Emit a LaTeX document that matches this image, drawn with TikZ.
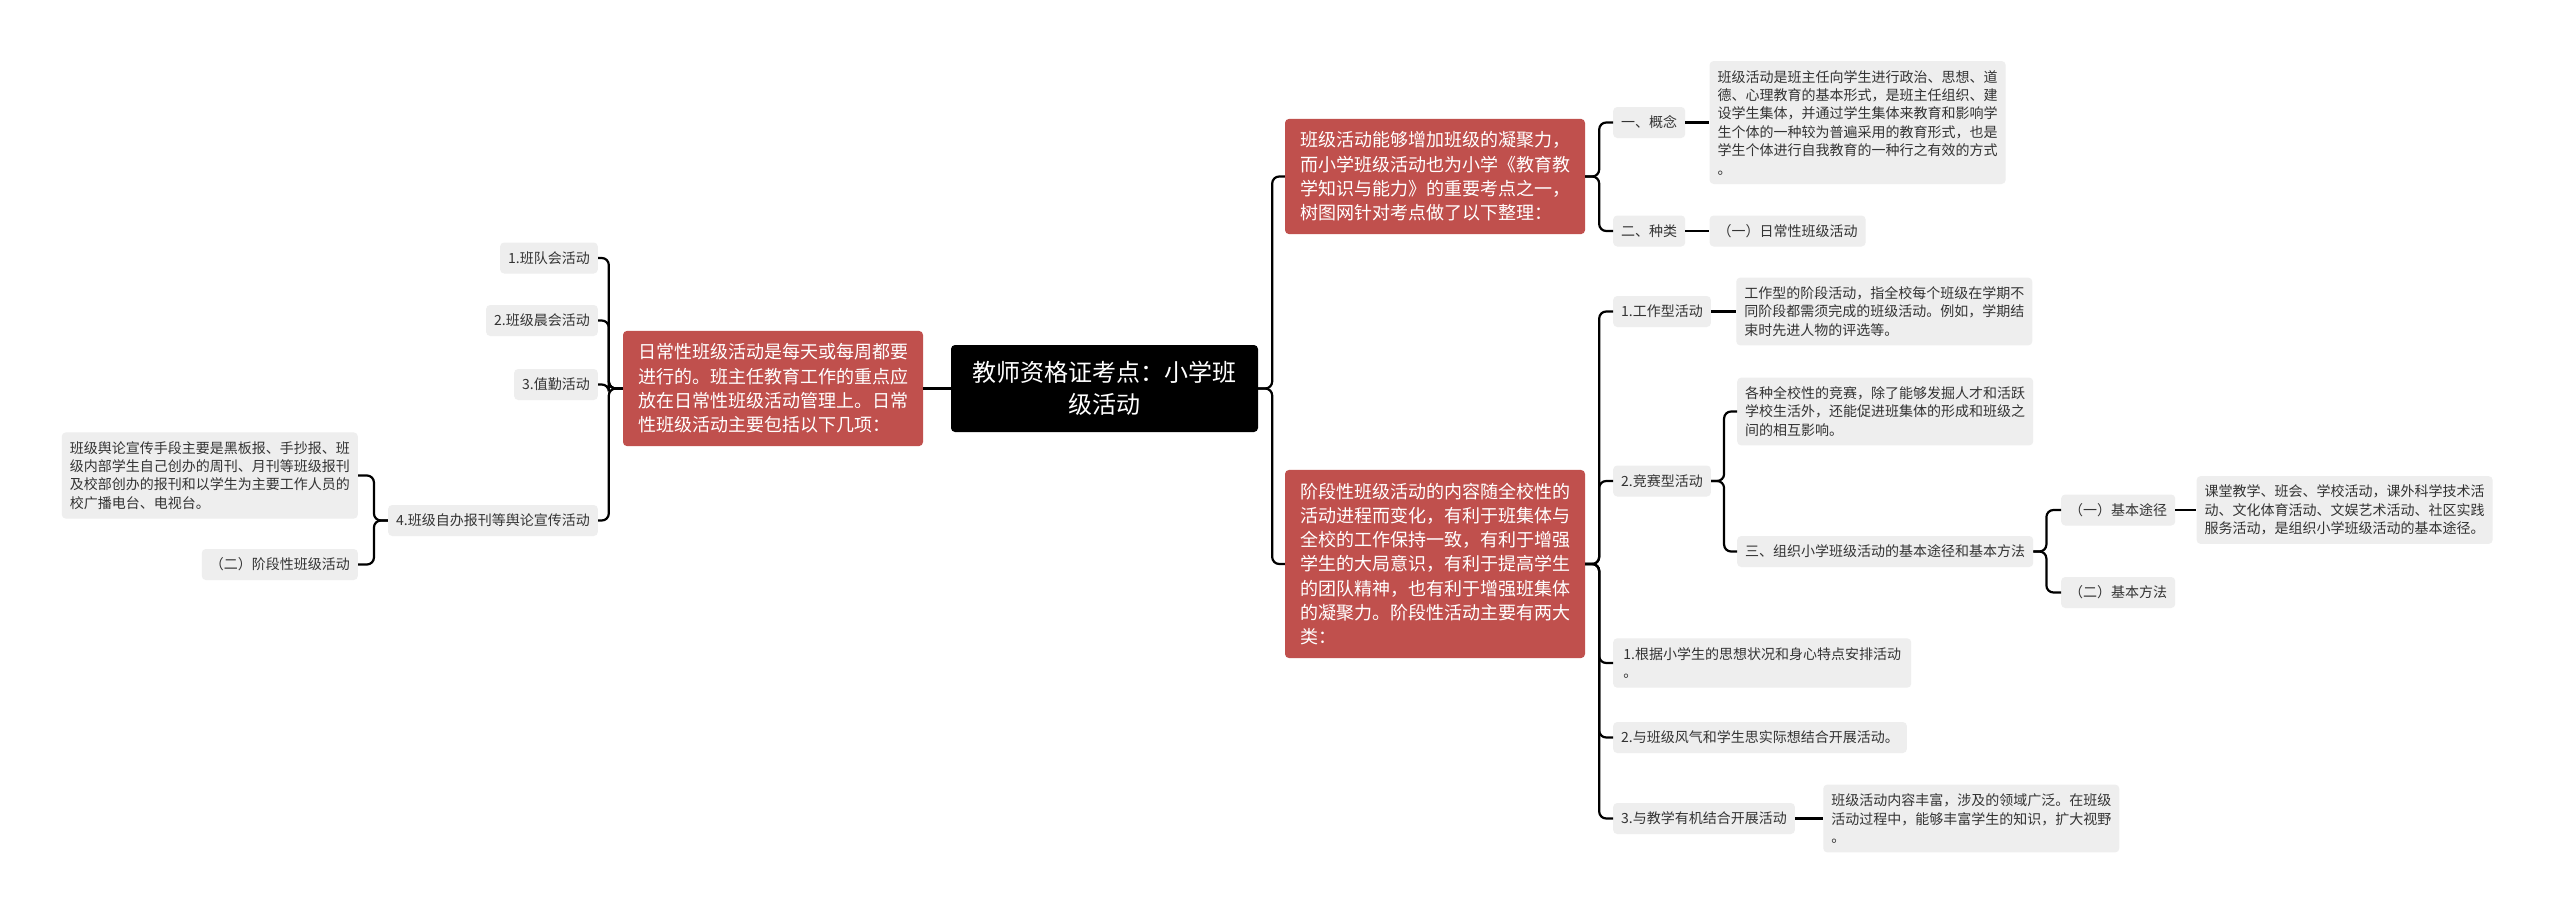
\documentclass[tikz,border=0pt]{standalone}
\usepackage{fontspec}
\setmainfont{Noto Sans CJK SC}
\usepackage{tikz}
\usetikzlibrary{positioning}
\definecolor{branchred}{HTML}{C0504D}
\definecolor{itemgray}{HTML}{EEEEEE}
\definecolor{itemtext}{HTML}{333333}

\begin{document}
\begin{tikzpicture}[
    x=1pt, y=-1pt,
    node distance=25pt,
    topic/.style={fill=black, text=white, rounded corners=4pt, align=center, inner xsep=21pt, inner ysep=0pt, minimum height=87pt, font=\fontsize{24}{32.4}\selectfont},
    branch/.style={fill=branchred, text=white, rounded corners=4pt, align=left, inner xsep=15pt, inner ysep=0pt, font=\fontsize{18}{24.3}\selectfont},
    item/.style={fill=itemgray, text=itemtext, rounded corners=4pt, align=left, inner xsep=8pt, inner ysep=0pt, font=\fontsize{14}{18.4}\selectfont},
    rl/.style={minimum height={#1*24.3pt+18pt}},
    gl/.style={minimum height={#1*18.4pt+12.6pt}},
    link/.style={line width=2.2pt, rounded corners=7pt},
]
\fill[white] (0,0) rectangle (2560,913);
\useasboundingbox (0,0) rectangle (2560,913);

% Central topic
\node[topic, minimum width=307pt] (root) at (1104.5,388.5) {教师资格证考点：小学班\\级活动};

% Main branches
\node[branch, rl=4] (daily) at (773,388.5) {日常性班级活动是每天或每周都要\\进行的。班主任教育工作的重点应\\放在日常性班级活动管理上。日常\\性班级活动主要包括以下几项：};
\node[branch, rl=4] (intro) at (1435,176.5) {班级活动能够增加班级的凝聚力，\\而小学班级活动也为小学《教育教\\学知识与能力》的重要考点之一，\\树图网针对考点做了以下整理：};
\node[branch, rl=7] (stage) at (1435,564) {阶段性班级活动的内容随全校性的\\活动进程而变化，有利于班集体与\\全校的工作保持一致，有利于增强\\学生的大局意识，有利于提高学生\\的团队精神，也有利于增强班集体\\的凝聚力。阶段性活动主要有两大\\类：};

% Concept and kinds
\node[item, gl=1, anchor=west] (concept) at (1613,122.5) {一、概念};
\node[item, gl=6, right=24pt of concept] (conceptd) {班级活动是班主任向学生进行政治、思想、道\\德、心理教育的基本形式，是班主任组织、建\\设学生集体，并通过学生集体来教育和影响学\\生个体的一种较为普遍采用的教育形式，也是\\学生个体进行自我教育的一种行之有效的方式\\。};
\node[item, gl=1, anchor=west] (kinds) at (1613,231) {二、种类};
\node[item, gl=1, right=24pt of kinds] (kindsd) {（一）日常性班级活动};

% Stage activities
\node[item, gl=1, anchor=west] (work) at (1613,311.5) {1.工作型活动};
\node[item, gl=3, right=25pt of work] (workd) {工作型的阶段活动，指全校每个班级在学期不\\同阶段都需须完成的班级活动。例如，学期结\\束时先进人物的评选等。};
\node[item, gl=1, anchor=west] (contest) at (1613,481) {2.竞赛型活动};
\node[item, gl=3, anchor=west] (contestd) at (1737,411.5) {各种全校性的竞赛，除了能够发掘人才和活跃\\学校生活外，还能促进班集体的形成和班级之\\间的相互影响。};
\node[item, gl=1, anchor=west] (organize) at (1737,551.5) {三、组织小学班级活动的基本途径和基本方法};
\node[item, gl=1, anchor=west] (route) at (2061,510) {（一）基本途径};
\node[item, gl=3, right=21pt of route] (routed) {课堂教学、班会、学校活动，课外科学技术活\\动、文化体育活动、文娱艺术活动、社区实践\\服务活动，是组织小学班级活动的基本途径。};
\node[item, gl=1, anchor=west] (method) at (2061,592.5) {（二）基本方法};
\node[item, gl=2, minimum width=298pt, anchor=west] (plan1) at (1613,663) {1.根据小学生的思想状况和身心特点安排活动\\。};
\node[item, gl=1, anchor=west] (plan2) at (1613,737.5) {2.与班级风气和学生思实际想结合开展活动。};
\node[item, gl=1, anchor=west] (plan3) at (1613,818.5) {3.与教学有机结合开展活动};
\node[item, gl=3, right=28pt of plan3] (plan3d) {班级活动内容丰富，涉及的领域广泛。在班级\\活动过程中，能够丰富学生的知识，扩大视野\\。};

% Daily activities
\node[item, gl=1, anchor=east] (meet) at (598,258) {1.班队会活动};
\node[item, gl=1, anchor=east] (morning) at (598,320.5) {2.班级晨会活动};
\node[item, gl=1, anchor=east] (duty) at (598,384.5) {3.值勤活动};
\node[item, gl=1, anchor=east] (press) at (598,520.5) {4.班级自办报刊等舆论宣传活动};
\node[item, gl=4, anchor=east] (pressd) at (358,475.5) {班级舆论宣传手段主要是黑板报、手抄报、班\\级内部学生自己创办的周刊、月刊等班级报刊\\及校部创办的报刊和以学生为主要工作人员的\\校广播电台、电视台。};
\node[item, gl=1, anchor=east] (stagek) at (358,564.5) {（二）阶段性班级活动};

% Connectors, right side
\draw[link] (root.east) -- ++(14,0) |- (intro.west);
\draw[link] (root.east) -- ++(14,0) |- (stage.west);
\draw[link] (intro.east) -- ++(14,0) |- (concept.west);
\draw[link] (intro.east) -- ++(14,0) |- (kinds.west);
\draw[link] (concept) -- (conceptd);
\draw[link] (kinds) -- (kindsd);
\draw[link] (stage.east) -- ++(14,0) |- (work.west);
\draw[link] (stage.east) -- ++(14,0) |- (contest.west);
\draw[link] (stage.east) -- ++(14,0) |- (plan1.west);
\draw[link] (stage.east) -- ++(14,0) |- (plan2.west);
\draw[link] (stage.east) -- ++(14,0) |- (plan3.west);
\draw[link] (work) -- (workd);
\draw[link] (contest.east) -- ++(13,0) |- (contestd.west);
\draw[link] (contest.east) -- ++(13,0) |- (organize.west);
\draw[link] (organize.east) -- ++(13,0) |- (route.west);
\draw[link] (organize.east) -- ++(13,0) |- (method.west);
\draw[link] (route) -- (routed);
\draw[link] (plan3) -- (plan3d);

% Connectors, left side
\draw[link] (root.west) -- (daily.east);
\draw[link] (daily.west) -- ++(-14,0) |- (meet.east);
\draw[link] (daily.west) -- ++(-14,0) |- (morning.east);
\draw[link] (daily.west) -- ++(-14,0) |- (duty.east);
\draw[link] (daily.west) -- ++(-14,0) |- (press.east);
\draw[link] (press.west) -- ++(-14,0) |- (pressd.east);
\draw[link] (press.west) -- ++(-14,0) |- (stagek.east);

\end{tikzpicture}
\end{document}
